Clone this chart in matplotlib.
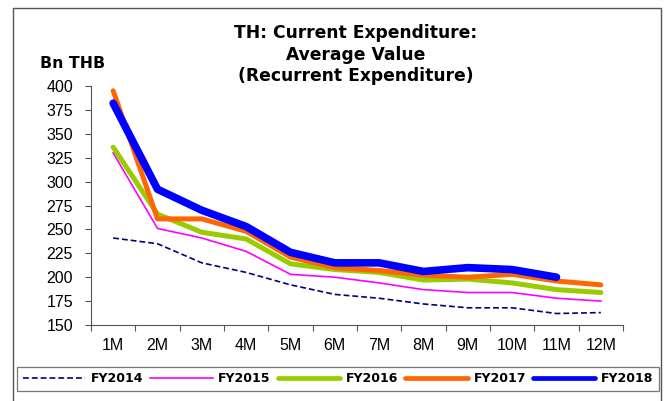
import matplotlib
matplotlib.use("Agg")
import matplotlib.pyplot as plt
from matplotlib.patches import Rectangle

plt.rcParams['font.family'] = ['Liberation Sans', 'DejaVu Sans']

months = ["1M", "2M", "3M", "4M", "5M", "6M", "7M", "8M", "9M", "10M", "11M", "12M"]
fy2014 = [241, 235, 215, 205, 192, 182, 178, 172, 168, 168, 162, 163]
fy2015 = [330, 251, 241, 227, 203, 200, 194, 187, 184, 184, 178, 175]
fy2016 = [336, 266, 247, 240, 214, 208, 205, 197, 198, 194, 187, 184]
fy2017 = [395, 261, 261, 248, 221, 210, 207, 202, 200, 203, 196, 192]
fy2018 = [382, 292, 270, 253, 226, 215, 215, 206, 210, 208, 200]
yticks = [150, 175, 200, 225, 250, 275, 300, 325, 350, 375, 400]
title_lines = ["TH: Current Expenditure:", "Average Value", "(Recurrent Expenditure)"]

W, H = 671, 401
fig = plt.figure(figsize=(W / 100, H / 100), dpi=100)
ax = fig.add_axes([91 / W, 1 - 325 / H, (623 - 91) / W, (325 - 86) / H])

x = list(range(len(months)))
ax.plot(x, fy2014, color='#000080', lw=1.2, dashes=(3.5, 1.8), label='FY2014')
ax.plot(x, fy2015, color='#FF00FF', lw=1.2, label='FY2015')
ax.plot(x, fy2016, color='#99CC00', lw=3.6, solid_capstyle='round', solid_joinstyle='round', label='FY2016')
ax.plot(x, fy2017, color='#FF6600', lw=3.6, solid_capstyle='round', solid_joinstyle='round', label='FY2017')
ax.plot(x[:len(fy2018)], fy2018, color='#0000FF', lw=5.5, solid_capstyle='round', solid_joinstyle='round', label='FY2018')

ax.set_xlim(-0.5, len(months) - 0.5)
ax.set_ylim(150, 400)
ax.set_yticks(yticks)
ax.set_yticklabels([str(v) for v in yticks])
ax.set_xticks([i + 0.5 for i in range(-1, len(months))])
ax.set_xticklabels([])
ax.set_xticks(x, minor=True)
ax.set_xticklabels(months, minor=True)
ax.tick_params(axis='x', which='major', length=4, width=0.8, color='#555555', direction='out')
ax.tick_params(axis='x', which='minor', length=0, pad=9, labelsize=11.5)
ax.tick_params(axis='y', length=4, width=0.8, color='#555555', direction='out', pad=9, labelsize=11.5)
for s in ['top', 'right']:
    ax.spines[s].set_visible(False)
for s in ['left', 'bottom']:
    ax.spines[s].set_color('#555555')
    ax.spines[s].set_linewidth(0.8)

for line, yc in zip(title_lines, [33, 54.5, 76]):
    fig.text(356 / W, 1 - yc / H, line, ha='center', va='center', fontsize=12.3,
             fontweight='bold', family='DejaVu Sans')
fig.text(40 / W, 1 - 63 / H, "Bn THB", ha='left', va='center', fontsize=11.3,
         fontweight='bold', family='DejaVu Sans')

# outer frame
fig.patches.append(Rectangle((13 / W, -0.05), (661 - 13) / W, 1.05 - 8 / H,
                             transform=fig.transFigure, fill=False, edgecolor='#555555', lw=1.0))

leg = fig.legend(loc='lower left', bbox_to_anchor=(17 / W, 1 - 391 / H, (659 - 17) / W, 27 / H),
                 mode='expand', ncol=5, borderaxespad=0,
                 prop={'weight': 'bold', 'size': 9, 'family': 'DejaVu Sans'},
                 handlelength=5.0, handletextpad=0.45, columnspacing=0.9,
                 frameon=True, fancybox=False, borderpad=0.45)
leg.get_frame().set_edgecolor('#555555')
leg.get_frame().set_linewidth(0.9)
for ln in leg.get_lines()[2:]:
    ln.set_linewidth(3.4)

fig.savefig("out.png", dpi=100)
